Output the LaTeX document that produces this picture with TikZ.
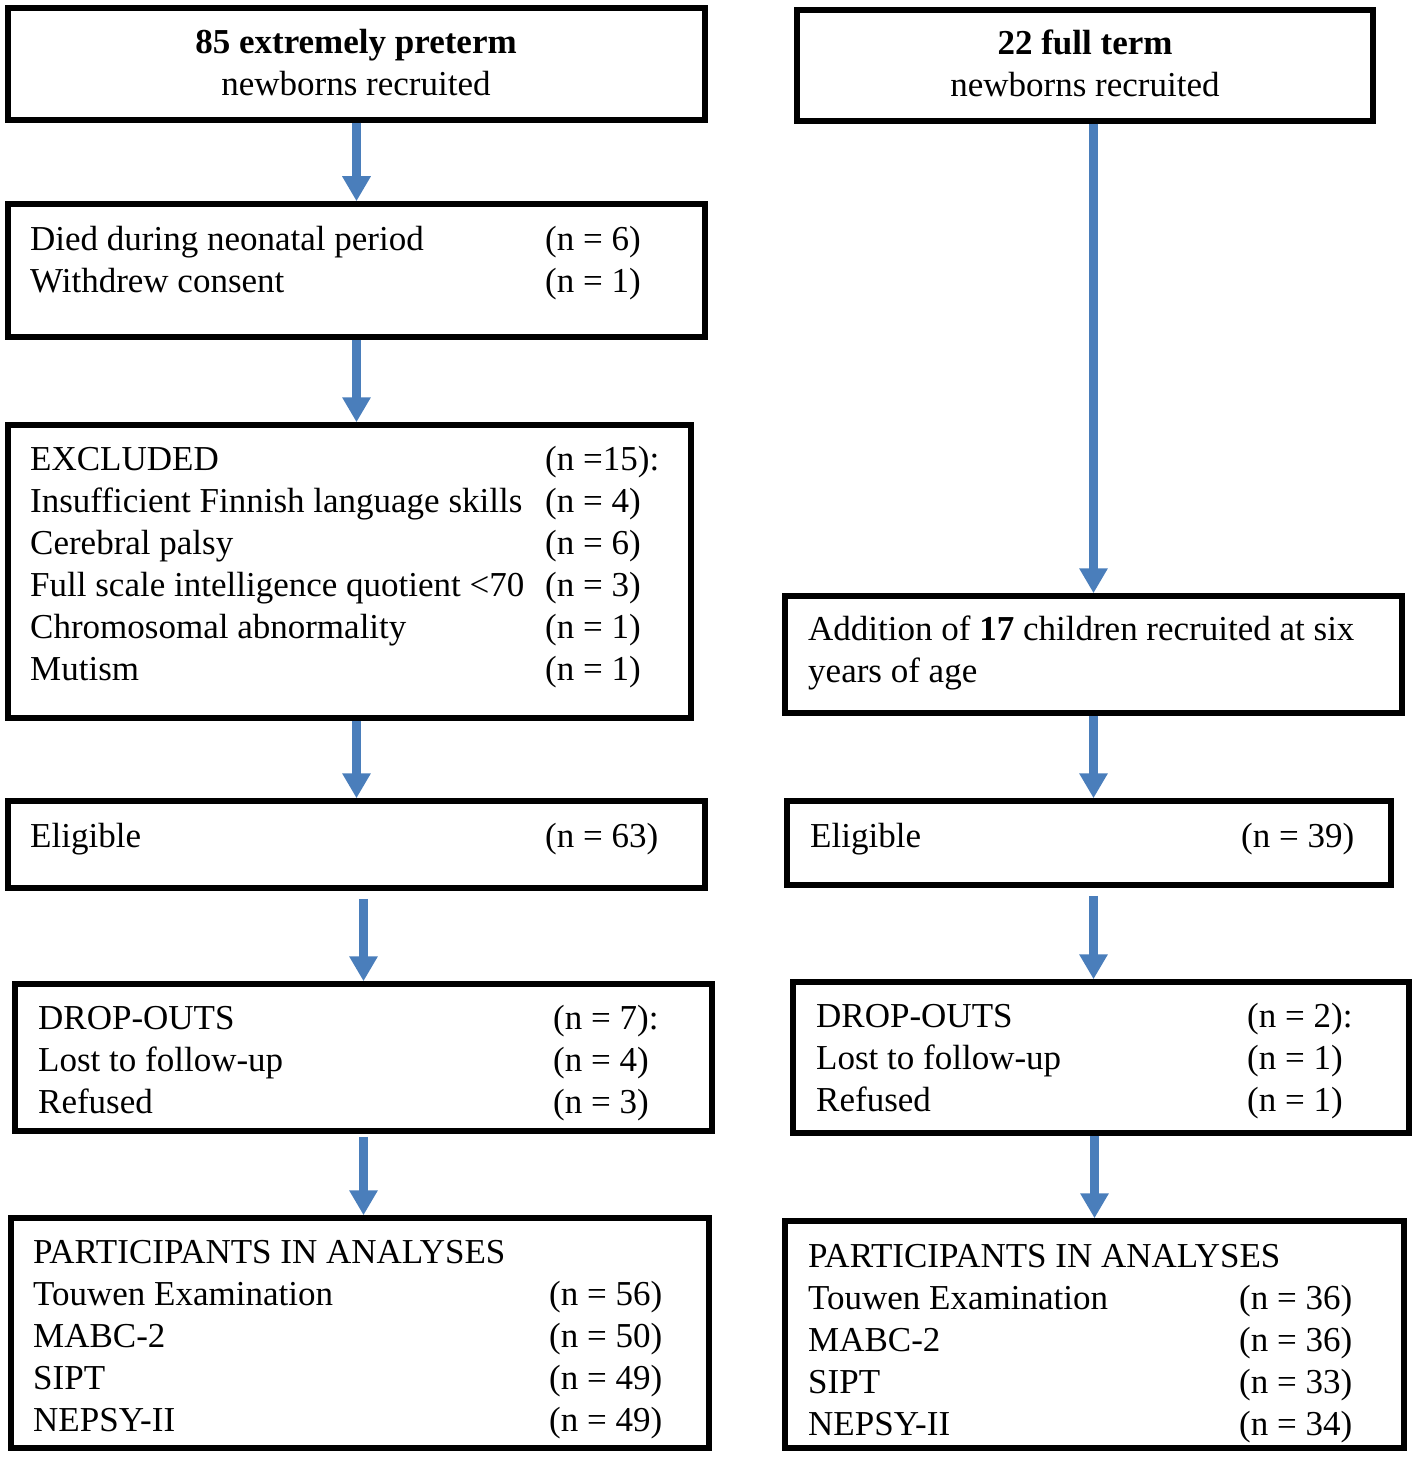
\documentclass[tikz,border=0pt]{standalone}
\usepackage{fontspec}
\setmainfont{Liberation Serif}
\usetikzlibrary{arrows.meta,fit,calc}
\definecolor{arrowblue}{HTML}{4A7EBB}
\tikzset{
  box/.style={draw=black, line width=5.5pt, inner sep=0pt},
  txt/.style={anchor=base west, inner sep=0pt, font=\fontsize{35}{42}\selectfont},
  ctxt/.style={anchor=base, inner sep=0pt, font=\fontsize{35}{42}\selectfont},
  flow/.style={draw=arrowblue, line width=9pt, -{Triangle[width=27pt,length=25pt]}}
}
\begin{document}
\begin{tikzpicture}[x=1pt,y=-1pt]
\useasboundingbox (0,0) rectangle (1418,1458);
% boxes
\node[box, fit={(8,8) (705,120)}] (L1) {};
\node[box, fit={(797,10) (1373,121)}] (R1) {};
\node[box, fit={(8,204) (705,337)}] (L2) {};
\node[box, fit={(8,425) (691,718)}] (L3) {};
\node[box, fit={(785,596) (1402,713)}] (R3) {};
\node[box, fit={(8,801) (705,888)}] (L4) {};
\node[box, fit={(787,801) (1391,885)}] (R4) {};
\node[box, fit={(15,984) (712,1131)}] (L5) {};
\node[box, fit={(793,982) (1409,1133)}] (R5) {};
\node[box, fit={(11,1218) (709,1448)}] (L6) {};
\node[box, fit={(785,1221) (1404,1448)}] (R6) {};
% texts L1 / R1
\node[ctxt] (l1a) at (356,54) {\textbf{85 extremely preterm}};
\node[ctxt] (l1b) at (356,96) {newborns recruited};
\node[ctxt] (r1a) at (1085,55) {\textbf{22 full term}};
\node[ctxt] (r1b) at (1085,97) {newborns recruited};
% L2
\node[txt] (l2a) at (30,250) {Died during neonatal period};
\node[txt] (l2b) at (30,292) {Withdrew consent};
\node[txt] (l2c) at (545,250) {(n = 6)};
\node[txt] (l2d) at (545,292) {(n = 1)};
% L3
\node[txt] (l3a) at (30,470) {EXCLUDED};
\node[txt] (l3b) at (30,512) {Insufficient Finnish language skills};
\node[txt] (l3c) at (30,554) {Cerebral palsy};
\node[txt] (l3d) at (30,596) {Full scale intelligence quotient <70};
\node[txt] (l3e) at (30,638) {Chromosomal abnormality};
\node[txt] (l3f) at (30,680) {Mutism};
\node[txt] (l3g) at (545,470) {(n =15):};
\node[txt] (l3h) at (545,512) {(n = 4)};
\node[txt] (l3i) at (545,554) {(n = 6)};
\node[txt] (l3j) at (545,596) {(n = 3)};
\node[txt] (l3k) at (545,638) {(n = 1)};
\node[txt] (l3l) at (545,680) {(n = 1)};
% R3
\node[txt] (r3a) at (808,640) {Addition of \textbf{17} children recruited at six};
\node[txt] (r3b) at (808,682) {years of age};
% L4 / R4
\node[txt] (l4a) at (30,847) {Eligible};
\node[txt] (l4b) at (545,847) {(n = 63)};
\node[txt] (r4a) at (810,847) {Eligible};
\node[txt] (r4b) at (1241,847) {(n = 39)};
% L5
\node[txt] (l5a) at (38,1029) {DROP-OUTS};
\node[txt] (l5b) at (38,1071) {Lost to follow-up};
\node[txt] (l5c) at (38,1113) {Refused};
\node[txt] (l5d) at (553,1029) {(n = 7):};
\node[txt] (l5e) at (553,1071) {(n = 4)};
\node[txt] (l5f) at (553,1113) {(n = 3)};
% R5
\node[txt] (r5a) at (816,1027) {DROP-OUTS};
\node[txt] (r5b) at (816,1069) {Lost to follow-up};
\node[txt] (r5c) at (816,1111) {Refused};
\node[txt] (r5d) at (1247,1027) {(n = 2):};
\node[txt] (r5e) at (1247,1069) {(n = 1)};
\node[txt] (r5f) at (1247,1111) {(n = 1)};
% L6
\node[txt] (l6a) at (33,1263) {PARTICIPANTS IN ANALYSES};
\node[txt] (l6b) at (33,1305) {Touwen Examination};
\node[txt] (l6c) at (33,1347) {MABC-2};
\node[txt] (l6d) at (33,1389) {SIPT};
\node[txt] (l6e) at (33,1431) {NEPSY-II};
\node[txt] (l6f) at (549,1305) {(n = 56)};
\node[txt] (l6g) at (549,1347) {(n = 50)};
\node[txt] (l6h) at (549,1389) {(n = 49)};
\node[txt] (l6i) at (549,1431) {(n = 49)};
% R6
\node[txt] (r6a) at (808,1267) {PARTICIPANTS IN ANALYSES};
\node[txt] (r6b) at (808,1309) {Touwen Examination};
\node[txt] (r6c) at (808,1351) {MABC-2};
\node[txt] (r6d) at (808,1393) {SIPT};
\node[txt] (r6e) at (808,1435) {NEPSY-II};
\node[txt] (r6f) at (1239,1309) {(n = 36)};
\node[txt] (r6g) at (1239,1351) {(n = 36)};
\node[txt] (r6h) at (1239,1393) {(n = 33)};
\node[txt] (r6i) at (1239,1435) {(n = 34)};
% arrows
\draw[flow] (L1.south) -- (L2.north);
\draw[flow] (L2.south) -- (L2.south |- L3.north);
\draw[flow] (L4.north |- L3.south) -- (L4.north);
\draw[flow, shorten <=8pt] (L5.north |- L4.south) -- (L5.north);
\draw[flow, shorten <=3pt] (L5.south) -- (L5.south |- L6.north);
\draw[flow] (R3.north |- R1.south) -- (R3.north);
\draw[flow] (R3.south) -- (R3.south |- R4.north);
\draw[flow, shorten <=8pt] (R4.south -| R3.south) -- (R5.north -| R3.south);
\draw[flow] (R6.north |- R5.south) -- (R6.north);
\end{tikzpicture}
\end{document}
